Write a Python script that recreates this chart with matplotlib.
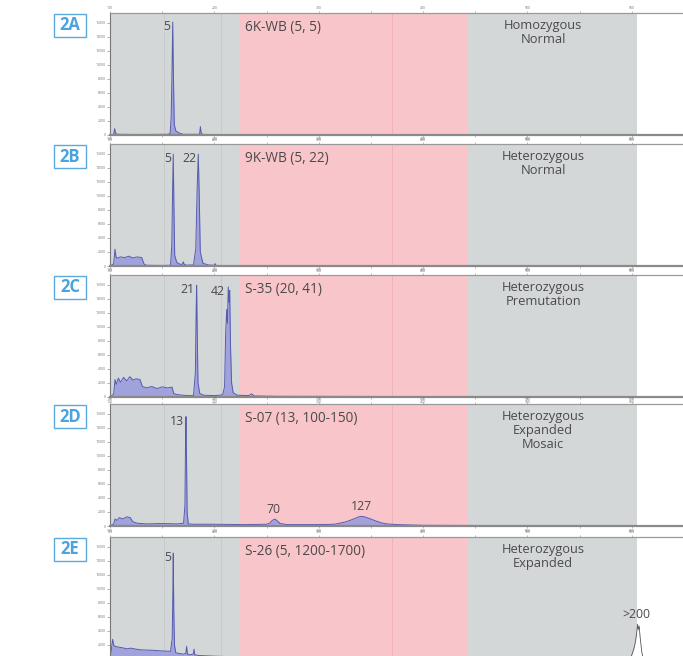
import matplotlib
matplotlib.use("Agg")
import matplotlib.pyplot as plt
from matplotlib.patches import Rectangle
from matplotlib.ticker import MultipleLocator
import matplotlib.transforms as mtransforms

plt.rcParams["font.family"] = ["Open Sans", "DejaVu Sans"]

# fragment size axis (bp) and signal axis (RFU)
XMIN, XMAX = 100, 649
YMAX = 17400

# background zones (bp): normal | premutation | full mutation | beyond
zone_edges = [100, 224, 442, 605]
zone_colors = ["#d4d7d8", "#f8c5ca", "#d4d7d8"]
grid_lines = [152, 206, 370]

panel_ids = ["2A", "2B", "2C", "2D", "2E"]
sample_names = ["6K-WB (5, 5)", "9K-WB (5, 22)", "S-35 (20, 41)",
                "S-07 (13, 100-150)", "S-26 (5, 1200-1700)"]
genotypes = ["Homozygous\nNormal", "Heterozygous\nNormal",
             "Heterozygous\nPremutation", "Heterozygous\nExpanded\nMosaic",
             "Heterozygous\nExpanded"]

trace_2a_x = [100, 103.5, 104.5, 105.2, 106, 108, 120, 140, 155, 157.6, 158.6,
              159.4, 160.1, 160.8, 161.6, 163, 166, 170, 185.8, 186.6, 187.3,
              188, 190, 220, 300, 649]
trace_2a_y = [0, 100, 900, 300, 150, 100, 80, 80, 100, 200, 2500, 9000, 16100,
              8000, 1500, 600, 300, 100, 100, 1200, 300, 150, 80, 60, 40, 0]

trace_2b_x = [100, 103.5, 104.8, 105.8, 107, 110, 114, 118, 122, 126, 130.4,
              132.5, 135, 150, 158, 159.2, 160, 160.6, 161.2, 162, 164, 168,
              169.5, 170.2, 171, 173, 180, 182.2, 183.5, 184.6, 185.5, 186.5,
              189, 194, 200, 200.6, 201.3, 205, 649]
trace_2b_y = [0, 300, 2400, 1300, 1100, 1300, 1200, 1400, 1150, 1300, 1200,
              300, 100, 80, 100, 3000, 11000, 15950, 9000, 1500, 500, 200, 300,
              600, 250, 120, 150, 2500, 11000, 15950, 10000, 2000, 400, 150,
              100, 350, 100, 60, 0]

trace_2c_x = [100, 103.5, 104.8, 106, 108, 110, 113, 116, 119, 122, 125, 128.7,
              131, 135, 140, 145, 150, 155, 159.5, 161, 164, 170, 175, 180,
              181.8, 182.5, 183, 183.6, 184.3, 186, 190, 200, 208, 209.8, 210.8,
              211.8, 212.5, 213.3, 214, 214.7, 215.5, 216.5, 218, 222, 233,
              235.7, 238, 260, 649]
trace_2c_y = [0, 400, 2500, 1800, 2700, 2100, 2800, 2300, 2900, 2400, 2600,
              2500, 1500, 1300, 1500, 1200, 1450, 1300, 1400, 500, 350, 250,
              200, 200, 3500, 12000, 15950, 9000, 2000, 500, 250, 200, 300,
              1500, 9000, 12500, 10500, 15700, 13500, 15200, 7000, 2000, 600,
              250, 200, 450, 150, 100, 0]

trace_2d_x = [100, 103.5, 104.8, 106.5, 109, 112, 116, 119.3, 122, 126, 135,
              150, 165, 170.5, 171.8, 172.3, 172.8, 173.3, 173.9, 175, 180, 200,
              230, 250, 253, 255.5, 258, 260.5, 263, 270, 300, 315, 320, 325,
              330, 335, 338, 341, 344, 348, 355, 360, 365, 375, 400, 649]
trace_2d_y = [0, 300, 1000, 800, 1200, 1000, 1300, 1200, 600, 400, 300, 350,
              300, 400, 3000, 11000, 15600, 10000, 2000, 300, 250, 250, 200,
              250, 400, 800, 990, 700, 350, 200, 200, 250, 400, 550, 800, 1100,
              1300, 1370, 1300, 1100, 700, 450, 300, 200, 100, 0]

trace_2e_x = [100, 101, 102.5, 103.5, 105, 108, 112, 116, 120, 125, 130, 140,
              150, 158, 159.6, 160.2, 160.6, 161.1, 161.8, 163, 166, 170, 172.7,
              173.4, 174.2, 176, 179.8, 180.5, 181.2, 185, 200, 225, 260, 300,
              649]
trace_2e_y = [0, 1000, 2800, 2000, 1800, 1700, 1600, 1450, 1550, 1400, 1300,
              1250, 1150, 1100, 3000, 9500, 15100, 7000, 2000, 900, 800, 700,
              800, 1800, 700, 600, 700, 1400, 600, 500, 400, 300, 200, 150, 0]

# expanded allele beyond the sizing range (panel 2E)
expanded_2e_x = [598, 600, 602, 603.5, 604.5, 605.5, 606.2, 607, 608, 609.5, 611]
expanded_2e_y = [0, 600, 1500, 2500, 3600, 4950, 4200, 4700, 3000, 1000, 0]

# peak calls: (label, size bp, height RFU)
peaks_2a = [("5", 160.1, 16100)]
peaks_2b = [("5", 160.6, 15950), ("22", 184.6, 15950)]
peaks_2c = [("21", 183.0, 15950), ("42", 211.8, 15700)]
peaks_2d = [("13", 172.8, 15600), ("70", 256.5, 990), ("127", 341.0, 1370)]
peaks_2e = [("5", 160.6, 15100), (">200", 604.0, 4950)]

traces = [(trace_2a_x, trace_2a_y), (trace_2b_x, trace_2b_y),
          (trace_2c_x, trace_2c_y), (trace_2d_x, trace_2d_y),
          (trace_2e_x, trace_2e_y)]
peak_calls = [peaks_2a, peaks_2b, peaks_2c, peaks_2d, peaks_2e]

W, H = 683, 656
fig = plt.figure(figsize=(W / 100, H / 100), dpi=100)

text_col = "#4a4a4a"
trace_edge = "#565bb0"
trace_fill = "#9a9ddc"
box_col = "#5aaae0"

panel_tops = [13, 144, 275, 404, 537]
panel_h = 122
ax_left, ax_right = 110, 683

for i in range(5):
    top = panel_tops[i]
    ax = fig.add_axes([ax_left / W, 1 - (top + panel_h) / H,
                       (ax_right - ax_left) / W, panel_h / H])
    ax.set_xlim(XMIN, XMAX)
    ax.set_ylim(0, YMAX)

    for j, c in enumerate(zone_colors):
        ax.axvspan(zone_edges[j], zone_edges[j + 1], color=c, lw=0, zorder=0)
    for g in grid_lines:
        col = "#f0b3ba" if zone_edges[1] < g < zone_edges[2] else "#c6cacb"
        ax.axvline(g, color=col, lw=0.7, zorder=0.5)

    tx, ty = traces[i]
    ax.fill_between(tx, ty, color=trace_fill, lw=0, alpha=0.9, zorder=2)
    ax.plot(tx, ty, color=trace_edge, lw=0.7, zorder=3)
    if i == 4:
        ax.fill_between(expanded_2e_x, expanded_2e_y, color="white", lw=0, zorder=2)
        ax.plot(expanded_2e_x, expanded_2e_y, color="#555555", lw=0.6, zorder=3)

    for lab, px, ph in peak_calls[i]:
        if ph > 8000:
            ax.text(px - 2.3, ph + 300, lab, ha="right", va="top",
                    fontsize=8.8, color=text_col, zorder=4)
        else:
            ax.text(px, ph + 500, lab, ha="center", va="bottom",
                    fontsize=8.8, color=text_col, zorder=4)

    trans = mtransforms.blended_transform_factory(ax.transData, ax.transAxes)
    ax.text(229, 0.94, sample_names[i], transform=trans, ha="left", va="top",
            fontsize=9.8, color=text_col)
    ax.text(515, 0.95, genotypes[i], transform=trans, ha="center", va="top",
            fontsize=9.3, color=text_col, linespacing=1.12)

    ax.spines["right"].set_visible(False)
    ax.spines["left"].set_color("#777777")
    ax.spines["left"].set_linewidth(0.8)
    ax.spines["top"].set_color("#9a9a9a")
    ax.spines["top"].set_linewidth(0.9)
    ax.spines["bottom"].set_color("#8a8a8a")
    ax.spines["bottom"].set_linewidth(1.6)
    for s in ax.spines.values():
        s.set_zorder(5)

    ax.xaxis.set_major_locator(MultipleLocator(100))
    ax.xaxis.set_minor_locator(MultipleLocator(50))
    # last panel runs past the bottom edge: its zero tick falls outside
    ax.set_yticks(range(2000 if i == 4 else 0, 17000, 2000))
    ax.tick_params(axis="x", which="both", top=True, bottom=True,
                   labeltop=True, labelbottom=(i < 4), direction="out",
                   length=1.5, width=0.4, color="#888888", pad=0.5,
                   labelsize=2.5, labelcolor="#777777")
    ax.tick_params(axis="y", direction="out", length=2, width=0.4,
                   color="#777777", pad=0.8, labelsize=2.5, labelcolor="#777777")

    # panel tag box
    fig.patches.append(Rectangle((54 / W, 1 - (top + 24) / H), 32 / W, 23 / H,
                                 transform=fig.transFigure, fill=False,
                                 edgecolor=box_col, lw=1.0))
    fig.text(70 / W, 1 - (top + 12.5) / H, panel_ids[i], ha="center",
             va="center", fontsize=12, fontweight="bold", color="#4aa3df")

fig.savefig("out.png", dpi=100)
